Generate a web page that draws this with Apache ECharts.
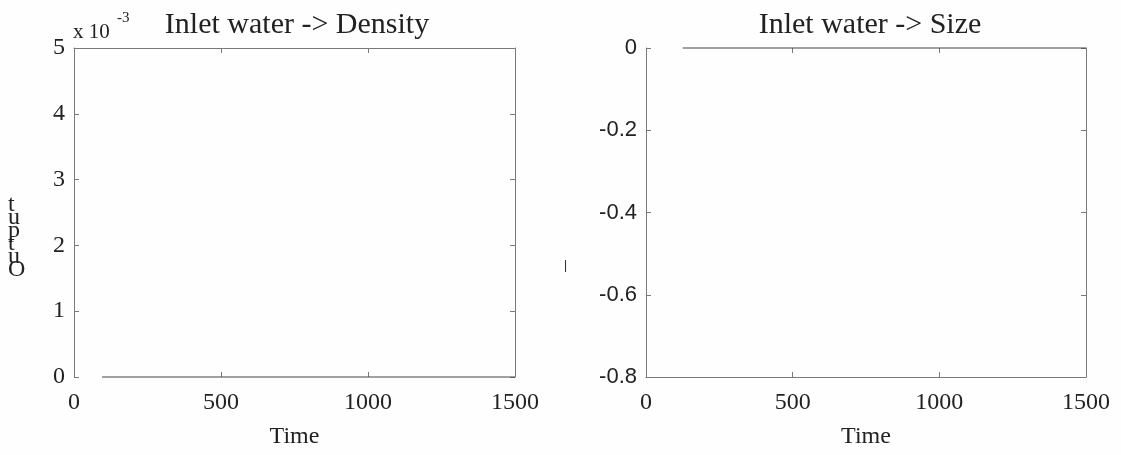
<!DOCTYPE html>
<html>
<head>
<meta charset="utf-8">
<script src="https://cdn.jsdelivr.net/npm/echarts@6/dist/echarts.min.js"></script>
<style>
  html, body { margin: 0; padding: 0; background: #fff; }
  #main { width: 1121px; height: 455px; }
</style>
</head>
<body>
<div id="main"></div>
<script>
// 数据
var timeDensity = [95, 1500]
var density = [0, 0] // 实际值 (x 10^-3 显示)
var timeSize = [125, 1500]
var size = [0, 0]
var xTicks = [0, 500, 1000, 1500]
var densityTicks = [0, 1, 2, 3, 4, 5] // x 10^-3
var sizeTicks = [-0.8, -0.6, -0.4, -0.2, 0]

var boxColor = '#7a7a7a'
var textColor = '#222'
var serif = 'Liberation Serif'

function pairs(xs, ys) {
  return xs.map(function (x, i) { return [x, ys[i]] })
}

var chart = echarts.init(document.getElementById('main'))

function xAxisPair(gridIndex, hideBottom, hideTop) {
  return [
    {
      type: 'value',
      gridIndex: gridIndex,
      position: 'bottom',
      min: xTicks[0],
      max: xTicks[xTicks.length - 1],
      interval: 500,
      name: 'Time',
      nameLocation: 'middle',
      nameGap: 48,
      nameTextStyle: { fontFamily: serif, fontSize: 24, color: textColor },
      axisLine: { show: !hideBottom, onZero: false, lineStyle: { color: boxColor, width: 1 } },
      axisTick: { inside: true, length: 5, lineStyle: { color: boxColor } },
      axisLabel: {
        fontFamily: serif, fontSize: 24, color: textColor, margin: 14,
        formatter: function (v) { return String(v) },
      },
      splitLine: { show: false },
    },
    {
      type: 'value',
      gridIndex: gridIndex,
      position: 'top',
      min: xTicks[0],
      max: xTicks[xTicks.length - 1],
      interval: 500,
      axisLine: { show: !hideTop, onZero: false, lineStyle: { color: boxColor, width: 1 } },
      axisTick: { inside: true, length: 5, lineStyle: { color: boxColor } },
      axisLabel: { show: false },
      splitLine: { show: false },
    },
  ]
}

function yAxisPair(gridIndex, min, max, interval, labelOpt) {
  return [
    {
      type: 'value',
      gridIndex: gridIndex,
      position: 'left',
      min: min,
      max: max,
      interval: interval,
      axisLine: { show: true, onZero: false, lineStyle: { color: boxColor, width: 1 } },
      axisTick: { show: true, inside: true, length: 5, lineStyle: { color: boxColor } },
      axisLabel: labelOpt,
      splitLine: { show: false },
    },
    {
      type: 'value',
      gridIndex: gridIndex,
      position: 'right',
      min: min,
      max: max,
      interval: interval,
      axisLine: { show: true, onZero: false, lineStyle: { color: boxColor, width: 1 } },
      axisTick: { show: true, inside: true, length: 5, lineStyle: { color: boxColor } },
      axisLabel: { show: false },
      splitLine: { show: false },
    },
  ]
}

var option = {
  backgroundColor: '#fefefe',
  animation: false,
  title: [
    {
      text: 'Inlet water -> Density',
      left: 292,
      textAlign: 'center',
      top: 5,
      textStyle: { fontFamily: serif, fontSize: 30, fontWeight: 'normal', color: textColor },
    },
    {
      text: 'Inlet water -> Size',
      left: 865,
      textAlign: 'center',
      top: 5,
      textStyle: { fontFamily: serif, fontSize: 30, fontWeight: 'normal', color: textColor },
    },
  ],
  grid: [
    { left: 74, top: 48, width: 441, height: 329 },
    { left: 646, top: 48, width: 440, height: 329 },
  ],
  xAxis: xAxisPair(0, true, false).concat(xAxisPair(1, false, true)),
  yAxis: yAxisPair(0, 0, densityTicks[densityTicks.length - 1] / 1000, 0.001, {
    fontFamily: serif, fontSize: 24, color: textColor, margin: 9,
    formatter: function (v) { return String(Math.round(v * 1000)) },
  }).concat(yAxisPair(1, sizeTicks[0], sizeTicks[sizeTicks.length - 1], 0.2, {
    fontFamily: 'Liberation Sans', fontSize: 22, color: textColor, margin: 9,
    formatter: function (v) { return String(Math.round(v * 10) / 10) },
  })),
  series: [
    {
      type: 'line',
      xAxisIndex: 0,
      yAxisIndex: 0,
      data: pairs(timeDensity, density),
      symbol: 'none',
      clip: false,
      lineStyle: { color: '#444', width: 1.2 },
    },
    {
      type: 'line',
      xAxisIndex: 2,
      yAxisIndex: 2,
      data: pairs(timeSize, size),
      symbol: 'none',
      clip: false,
      lineStyle: { color: '#444', width: 1.2 },
    },
  ],
  graphic: [
    // 指数标记
    {
      type: 'text', left: 73, top: 22,
      style: { text: 'x 10', font: '21px "Liberation Serif"', fill: textColor },
    },
    {
      type: 'text', left: 117, top: 11,
      style: { text: '-3', font: '15px "Liberation Serif"', fill: textColor },
    },
    // 左图 y 轴名 (扫描件中字母重叠)
    {
      type: 'text', left: 8, top: 193,
      style: {
        text: 't\nu\np\nt\nu\nO',
        font: '24px "Liberation Serif"',
        lineHeight: 13,
        align: 'center',
        fill: textColor,
      },
    },
    {
      type: 'text', left: 564, top: 260,
      style: { text: '|', font: '12px "Liberation Sans"', fill: textColor },
    },
  ],
}
chart.setOption(option)
</script>
</body>
</html>
